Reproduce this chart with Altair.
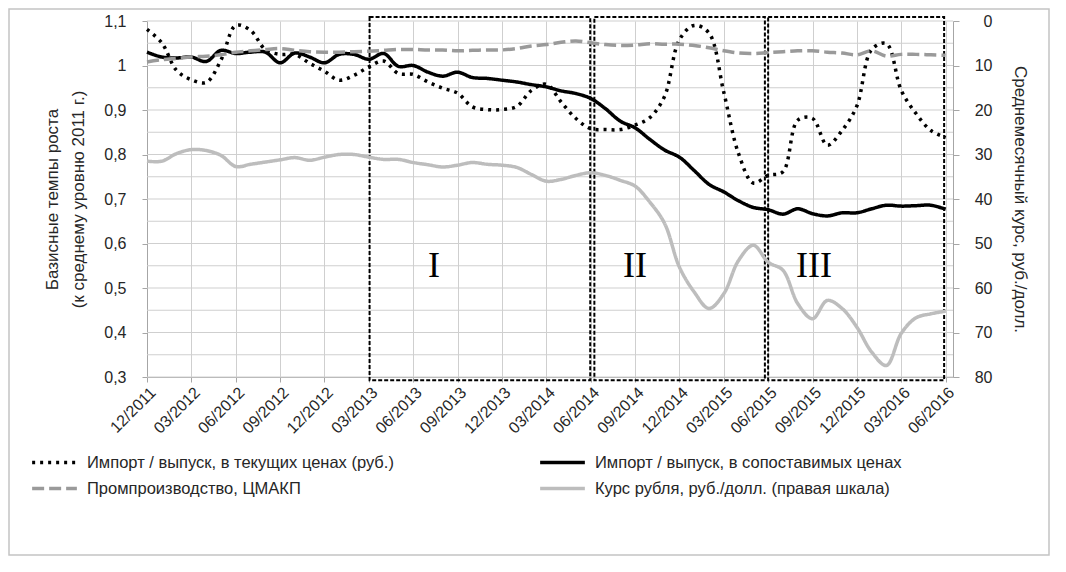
import json
import altair as alt
import pandas as pd

# ---- data (monthly, 12/2011 .. 06/2016) ----
tick_labels = ["12/2011", "03/2012", "06/2012", "09/2012", "12/2012", "03/2013",
               "06/2013", "09/2013", "12/2013", "03/2014", "06/2014", "09/2014",
               "12/2014", "03/2015", "06/2015", "09/2015", "12/2015", "03/2016", "06/2016"]

imp_cur = [1.081, 1.051, 0.989, 0.968, 0.962, 1.012, 1.090, 1.079, 1.036, 1.025,
           1.025, 1.005, 0.987, 0.967, 0.978, 0.997, 1.010, 0.982, 0.980, 0.963,
           0.949, 0.938, 0.907, 0.901, 0.901, 0.908, 0.944, 0.958, 0.918, 0.881,
           0.858, 0.856, 0.856, 0.866, 0.883, 0.931, 1.058, 1.090, 1.073, 0.940,
           0.802, 0.736, 0.753, 0.761, 0.877, 0.881, 0.821, 0.854, 0.909, 1.036,
           1.049, 0.944, 0.892, 0.854, 0.838]

imp_const = [1.030, 1.019, 1.017, 1.019, 1.009, 1.034, 1.027, 1.030, 1.030, 1.006,
             1.028, 1.019, 1.006, 1.025, 1.025, 1.014, 1.027, 0.998, 1.000, 0.985,
             0.976, 0.985, 0.973, 0.971, 0.967, 0.963, 0.957, 0.952, 0.943, 0.937,
             0.926, 0.903, 0.875, 0.860, 0.834, 0.810, 0.794, 0.764, 0.733, 0.716,
             0.696, 0.681, 0.676, 0.666, 0.678, 0.667, 0.662, 0.669, 0.669, 0.678,
             0.686, 0.684, 0.685, 0.686, 0.677]

prom = [1.008, 1.013, 1.016, 1.019, 1.021, 1.024, 1.030, 1.033, 1.036, 1.038,
        1.034, 1.031, 1.030, 1.030, 1.031, 1.032, 1.034, 1.036, 1.036, 1.035,
        1.035, 1.033, 1.034, 1.035, 1.035, 1.038, 1.044, 1.047, 1.052, 1.055,
        1.051, 1.047, 1.045, 1.046, 1.049, 1.048, 1.048, 1.045, 1.040, 1.033,
        1.028, 1.027, 1.029, 1.031, 1.033, 1.033, 1.030, 1.028, 1.024, 1.033,
        1.021, 1.025, 1.025, 1.024, 1.023]

rate = [31.5, 31.5, 29.8, 28.9, 29.1, 30.2, 32.7, 32.2, 31.7, 31.2,
        30.7, 31.3, 30.6, 30.0, 30.0, 30.6, 31.1, 31.1, 31.8, 32.3,
        32.8, 32.4, 31.8, 32.2, 32.4, 32.9, 34.5, 36.0, 35.6, 34.7,
        34.1, 34.7, 35.8, 37.1, 40.7, 45.5, 55.3, 60.9, 64.6, 61.3,
        53.8, 50.4, 54.2, 56.0, 63.5, 66.9, 62.8, 64.6, 68.8, 74.4,
        77.4, 70.2, 66.7, 65.8, 65.2]

S_CUR = "Импорт / выпуск, в текущих ценах (руб.)"
S_CONST = "Импорт / выпуск, в сопоставимых ценах"
S_PROM = "Промпроизводство, ЦМАКП"
S_RATE = "Курс рубля, руб./долл. (правая шкала)"
# legend order (filled column by column)
series_names = [S_CUR, S_PROM, S_CONST, S_RATE]

# periods (month index of start / end) and labels
period_labels = ["I", "II", "III"]
period_start = [15.05, 30.25, 42.0]
period_end = [29.97, 41.78, 53.9]
period_label_pos = [19.4, 33.0, 45.1]

months = list(range(len(imp_cur)))

# ---- tables ----
left_df = pd.DataFrame({
    "m": months * 3,
    "v": imp_cur + imp_const + prom,
    "series": [S_CUR] * len(months) + [S_CONST] * len(months) + [S_PROM] * len(months),
})
right_df = pd.DataFrame({"m": months, "r": rate, "series": S_RATE})
grid_df = pd.DataFrame({"g": [round(0.3 + 0.05 * i, 2) for i in range(17)]})
box_df = pd.DataFrame({"x0": period_start, "x1": period_end,
                       "y0": [0.2926] * 3, "y1": [1.109] * 3})
lab_df = pd.DataFrame({"m": period_label_pos, "v": [0.549] * 3, "lab": period_labels})
frame_df = pd.DataFrame({"k": [0]})

FONT = "Liberation Sans"
TXT = "#262626"
GRID = "#cfcfcf"
AX = "#a6a6a6"

xscale = alt.Scale(domain=[0, 54.5], nice=False, zero=False)
label_expr = json.dumps(tick_labels) + "[round(datum.value/3)]"
xaxis = alt.Axis(values=list(range(0, 55, 3)), labelExpr=label_expr, labelAngle=-45,
                 labelAlign="right", labelBaseline="top", labelFontSize=16,
                 labelColor=TXT, labelFont=FONT, grid=True, gridColor=GRID,
                 domainColor=AX, tickColor=AX, tickSize=5, labelPadding=2,
                 title=None, labelOverlap=False)

yscale = alt.Scale(domain=[0.3, 1.1], nice=False, zero=False)
yaxis = alt.Axis(values=[round(0.3 + 0.1 * i, 1) for i in range(9)],
                 labelExpr="replace(format(datum.value, '.1~f'), '.', ',')",
                 grid=False, domainColor=AX, tickColor=AX, tickSize=5,
                 labelPadding=16, labelFontSize=16, labelColor=TXT, labelFont=FONT,
                 title=["Базисные темпы роста", "(к среднему уровню 2011 г.)"],
                 titleFontSize=17, titleFontWeight="normal", titleColor=TXT,
                 titleFont=FONT, titlePadding=16, titleLineHeight=26)

color_scale = alt.Scale(domain=series_names,
                        range=["#000000", "#9a9a9a", "#000000", "#bdbdbd"])
dash_scale = alt.Scale(domain=series_names,
                       range=[[3, 5], [12, 5], [1, 0], [1, 0]])
legend = alt.Legend(orient="none", legendX=-117, legendY=431, columns=2,
                    columnPadding=144, rowPadding=5, clipHeight=21,
                    symbolType="stroke",
                    symbolSize=2000, symbolStrokeWidth=3.5, labelFontSize=16.5,
                    labelFont=FONT, labelColor=TXT, labelLimit=0, title=None,
                    labelOffset=8)

X = alt.X("m:Q", scale=xscale, axis=xaxis)
Y = alt.Y("v:Q", scale=yscale, axis=yaxis)

frame = alt.Chart(frame_df).mark_rect(fill=None, fillOpacity=0, stroke="#c4c4c4",
                                      strokeWidth=1.5).encode(
    x=alt.value(-138), x2=alt.value(902), y=alt.value(-12), y2=alt.value(534))

grid = alt.Chart(grid_df).mark_rule(color=GRID, strokeWidth=1).encode(
    y=alt.Y("g:Q", scale=yscale, axis=yaxis))

lines = alt.Chart(left_df).mark_line(strokeWidth=3.5, interpolate="catmull-rom").encode(
    x=X, y=Y,
    color=alt.Color("series:N", scale=color_scale, legend=legend, sort=series_names),
    strokeDash=alt.StrokeDash("series:N", scale=dash_scale, legend=legend, sort=series_names),
    detail="series:N",
)

boxes = alt.Chart(box_df).mark_rect(fill=None, fillOpacity=0, stroke="#000000",
                                    strokeWidth=2, strokeDash=[4, 2]).encode(
    x=alt.X("x0:Q", scale=xscale, axis=xaxis), x2="x1:Q",
    y=alt.Y("y0:Q", scale=yscale, axis=yaxis), y2="y1:Q")

labels = alt.Chart(lab_df).mark_text(font="Liberation Serif", fontSize=36,
                                     color="#000000", align="center",
                                     baseline="middle").encode(
    x=X, y=Y, text="lab:N")

left = alt.layer(frame, grid, boxes, lines, labels)

right = alt.Chart(right_df).mark_line(strokeWidth=3.5, interpolate="catmull-rom").encode(
    x=X,
    y=alt.Y("r:Q", scale=alt.Scale(domain=[0, 80], reverse=True, nice=False),
            axis=alt.Axis(orient="right", values=list(range(0, 81, 10)), grid=False,
                          domainColor=AX, tickColor=AX, tickSize=6, labelAlign="right",
                          labelPadding=33, labelFontSize=16, labelColor=TXT,
                          labelFont=FONT, title="Среднемесячный курс, руб./долл.",
                          titleFontSize=17, titleFontWeight="normal", titleColor=TXT,
                          titleFont=FONT, titlePadding=18)),
    color=alt.Color("series:N", scale=color_scale, legend=legend, sort=series_names),
    strokeDash=alt.StrokeDash("series:N", scale=dash_scale, legend=legend, sort=series_names),
)

chart = alt.layer(left, right).resolve_scale(y="independent").properties(
    width=806, height=356,
    autosize=alt.AutoSizeParams(type="none"),
    padding={"left": 139, "top": 13, "right": 105, "bottom": 187},
    background="white",
).configure_view(stroke=None)

chart.save("out.html", embed_options={"renderer": "svg", "actions": False})
